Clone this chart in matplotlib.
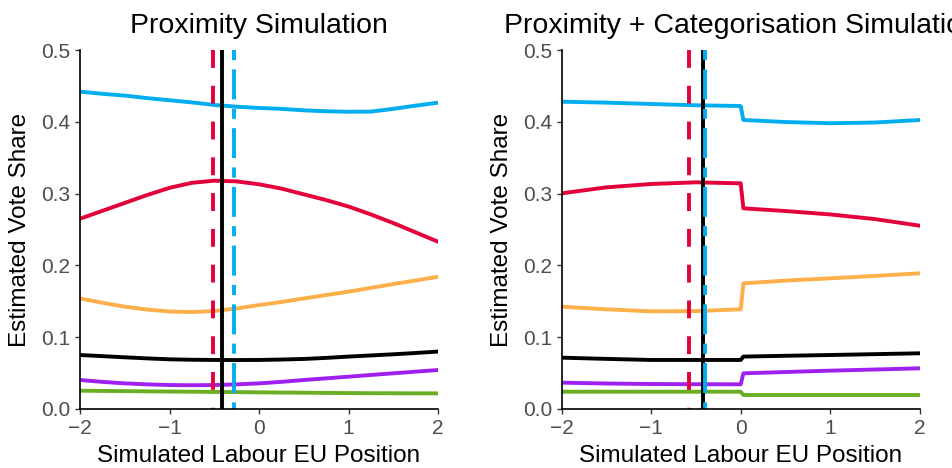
import numpy as np
import matplotlib
matplotlib.use("Agg")
import matplotlib.pyplot as plt

plt.rcParams['font.family'] = ['Liberation Sans', 'DejaVu Sans']

# simulated Labour EU position grid
x_prox = [-2, -1.75, -1.5, -1.25, -1, -0.75, -0.5, -0.25, 0,
          0.25, 0.5, 0.75, 1, 1.25, 1.5, 1.75, 2]
x_cat = [-2, -1.5, -1, -0.5, 0, 0.03, 0.5, 1, 1.5, 2]

# proximity simulation
prox_con = [0.442, 0.439, 0.4365, 0.433, 0.430, 0.427, 0.4235, 0.421, 0.4193,
            0.418, 0.416, 0.4147, 0.414, 0.4142, 0.418, 0.4225, 0.4266]
prox_lab = [0.265, 0.276, 0.287, 0.298, 0.308, 0.315, 0.318, 0.317, 0.313,
            0.307, 0.299, 0.291, 0.282, 0.271, 0.259, 0.246, 0.233]
prox_ld = [0.154, 0.148, 0.1425, 0.1385, 0.1358, 0.135, 0.1365, 0.140, 0.1448,
           0.149, 0.154, 0.1587, 0.1634, 0.1687, 0.174, 0.179, 0.1842]
prox_ukip = [0.0752, 0.0736, 0.072, 0.0705, 0.0692, 0.0686, 0.0683, 0.0682, 0.0683,
             0.0689, 0.0697, 0.0712, 0.073, 0.0746, 0.0762, 0.078, 0.080]
prox_oth = [0.0404, 0.0378, 0.0357, 0.0343, 0.0334, 0.0331, 0.0334, 0.0343, 0.0357,
            0.0378, 0.0404, 0.0427, 0.045, 0.0474, 0.0497, 0.052, 0.0543]
prox_grn = [0.0255, 0.0252, 0.0249, 0.0246, 0.0243, 0.0241, 0.0238, 0.0235, 0.0232,
            0.0229, 0.0227, 0.0224, 0.0222, 0.0220, 0.0219, 0.0218, 0.0218]

# proximity + categorisation simulation
cat_con = [0.428, 0.4267, 0.4248, 0.423, 0.422, 0.4025, 0.3997, 0.398, 0.399, 0.4025]
cat_lab = [0.3004, 0.3087, 0.3134, 0.3157, 0.3143, 0.2795, 0.2757, 0.271, 0.2645, 0.2553]
cat_ld = [0.1425, 0.1388, 0.136, 0.1364, 0.1388, 0.175, 0.1788, 0.182, 0.1853, 0.189]
cat_ukip = [0.0715, 0.0698, 0.0683, 0.0683, 0.0683, 0.073, 0.0741, 0.0752, 0.0764, 0.0776]
cat_oth = [0.0367, 0.0355, 0.0348, 0.0345, 0.0344, 0.0497, 0.0515, 0.0534, 0.055, 0.0567]
cat_grn = [0.0241, 0.0241, 0.0241, 0.0241, 0.0241, 0.0195, 0.0195, 0.0195, 0.0195, 0.0195]

# reference positions (red dashed, black solid, blue dot-dash)
prox_vlines = [-0.514, -0.41, -0.28]
cat_vlines = [-0.578, -0.42, -0.40]

colors = ['#00AEEF', '#E4003B', '#FDB04A', '#000000', '#A020F0', '#6AAF23']
vstyles = [('#E4003B', (0, (4.6, 4.6))), ('#000000', '-'), ('#00AEEF', (0, (2.6, 2.4, 7.7, 2.4)))]

fig = plt.figure(figsize=(9.52, 4.68), dpi=100)
ax1 = fig.add_axes([80/952, 59/468, 358/952, 359/468])
ax2 = fig.add_axes([561.7/952, 59/468, 358/952, 359/468])

panels = [
    (ax1, x_prox, [prox_con, prox_lab, prox_ld, prox_ukip, prox_oth, prox_grn], prox_vlines, 'Proximity Simulation'),
    (ax2, x_cat, [cat_con, cat_lab, cat_ld, cat_ukip, cat_oth, cat_grn], cat_vlines, 'Proximity + Categorisation Simulation'),
]

for ax, xs, series, vl, title in panels:
    for ys, c in zip(series, colors):
        ax.plot(xs, ys, color=c, lw=2.8, solid_joinstyle='round')
    for v, (c, ls) in zip(vl, vstyles):
        ax.plot([v, v], [0.5, 0], color=c, lw=2.8, linestyle=ls)
    ax.set_xlim(-2, 2)
    ax.set_ylim(0, 0.5)
    ax.set_xticks([-2, -1, 0, 1, 2])
    ax.set_yticks([0, 0.1, 0.2, 0.3, 0.4, 0.5])
    ax.set_yticklabels(['%.1f' % t for t in [0, 0.1, 0.2, 0.3, 0.4, 0.5]])
    for s in ['top', 'right']:
        ax.spines[s].set_visible(False)
    for s in ['left', 'bottom']:
        ax.spines[s].set_linewidth(1.2)
        ax.spines[s].set_color('black')
    ax.tick_params(length=3.5, width=1.0, color='#333333', labelsize=15,
                   labelcolor='#4D4D4D', pad=3.5)
    ax.set_xlabel('Simulated Labour EU Position', fontsize=17.5, labelpad=5)
    ax.set_ylabel('Estimated Vote Share', fontsize=17.5, labelpad=7)
    ax.set_title(title, fontsize=20.5, pad=12)

fig.savefig('out.png', dpi=100)
